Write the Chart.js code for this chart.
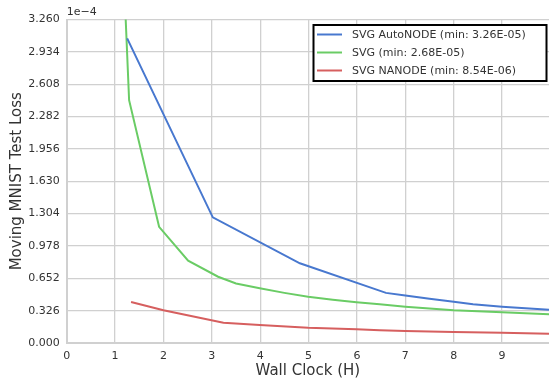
<!DOCTYPE html>
<html>
<head>
<meta charset="utf-8">
<script src="https://cdn.jsdelivr.net/npm/chart.js@4"></script>
<style>
  body { margin: 0; background: #fff; }
  #wrap { width: 549px; height: 381px; position: relative; }
</style>
</head>
<body>
<div id="wrap"><canvas id="myChart"></canvas></div>
<script>
// Values (loss in units of 1e-4)
const autoX = [1.25, 3.02, 4.82, 6.6, 7.0, 7.5, 8.0, 8.4, 9.0, 9.97];
const autoY = [3.07, 1.266, 0.803, 0.505, 0.478, 0.447, 0.416, 0.39, 0.366, 0.336];

const svgX = [1.19, 1.29, 1.91, 2.51, 3.13, 3.5, 3.99, 4.5, 4.99, 5.5, 5.99, 6.47, 7.0, 8.0, 9.0, 9.97];
const svgY = [3.6, 2.447, 1.171, 0.829, 0.668, 0.60, 0.551, 0.505, 0.466, 0.435, 0.41, 0.39, 0.366, 0.329, 0.309, 0.289];

const nanoX = [1.33, 2.0, 3.24, 3.99, 4.99, 5.99, 6.47, 7.0, 8.0, 9.0, 9.97];
const nanoY = [0.413, 0.33, 0.204, 0.181, 0.154, 0.138, 0.128, 0.121, 0.111, 0.104, 0.094];

const seriesLabels = ['SVG AutoNODE (min: 3.26E-05)', 'SVG (min: 2.68E-05)', 'SVG NANODE (min: 8.54E-06)'];
const seriesColors = ['#4878cf', '#6acc65', '#d65f5f'];

const xTicks = [0, 1, 2, 3, 4, 5, 6, 7, 8, 9];
const yTicks = [0, 0.326, 0.652, 0.978, 1.304, 1.630, 1.956, 2.282, 2.608, 2.934, 3.260];

function points(xs, ys) {
    return xs.map((x, i) => ({ x: x, y: ys[i] }));
}

const gridColor = '#d0d0d0';
const textColor = '#333333';
const font = 'DejaVu Sans';

// draws the "1e-4" offset text and the boxed legend inside the plot
const extras = {
    id: 'extras',
    afterDraw(chart) {
        const c = chart.ctx;
        const area = chart.chartArea;
        c.save();
        c.fillStyle = textColor;
        c.font = '11px "' + font + '"';
        c.textBaseline = 'alphabetic';
        c.textAlign = 'left';
        c.fillText('1e\u22124', area.left, 15);

        // legend box
        const bx = 313.5, by = 25, bw = 233, bh = 56;
        c.fillStyle = '#ffffff';
        c.fillRect(bx, by, bw, bh);
        c.strokeStyle = '#000000';
        c.lineWidth = 2;
        c.strokeRect(bx, by, bw, bh);
        c.textBaseline = 'middle';
        chart.data.datasets.forEach((ds, i) => {
            const y = 34.5 + i * 18;
            c.strokeStyle = ds.borderColor;
            c.lineWidth = 2;
            c.beginPath();
            c.moveTo(317, y);
            c.lineTo(342, y);
            c.stroke();
            c.fillStyle = textColor;
            c.fillText(ds.label, 352, y + 0.5);
        });
        c.restore();
    }
};

const ctx = document.getElementById('myChart');

new Chart(ctx, {
    type: 'line',
    data: {
        datasets: [
            { label: seriesLabels[0], data: points(autoX, autoY), borderColor: seriesColors[0] },
            { label: seriesLabels[1], data: points(svgX, svgY), borderColor: seriesColors[1] },
            { label: seriesLabels[2], data: points(nanoX, nanoY), borderColor: seriesColors[2] }
        ]
    },
    options: {
        responsive: true,
        maintainAspectRatio: false,
        animation: false,
        layout: { padding: { top: 19.5, right: 0, left: 0, bottom: 0 } },
        elements: {
            point: { radius: 0 },
            line: { borderWidth: 2, tension: 0 }
        },
        plugins: {
            legend: { display: false },
            tooltip: { enabled: false }
        },
        scales: {
            x: {
                type: 'linear',
                min: 0,
                max: 9.97,
                afterBuildTicks: (scale) => { scale.ticks = xTicks.map(v => ({ value: v })); },
                afterFit: (scale) => { scale.height = 38; },
                grid: { color: gridColor, lineWidth: 1.3, drawTicks: false },
                border: { color: gridColor, width: 2 },
                ticks: {
                    color: textColor,
                    padding: 7,
                    font: { family: font, size: 11 },
                    maxRotation: 0,
                    callback: (v) => String(v)
                },
                title: {
                    display: true,
                    text: 'Wall Clock (H)',
                    color: textColor,
                    font: { family: font, size: 15 },
                    padding: { top: 0, bottom: 1 }
                }
            },
            y: {
                min: 0,
                max: 3.26,
                afterBuildTicks: (scale) => { scale.ticks = yTicks.map(v => ({ value: v })); },
                afterFit: (scale) => { scale.width = 66.7; },
                grid: { color: gridColor, lineWidth: 1.3, drawTicks: false },
                border: { color: gridColor, width: 2 },
                ticks: {
                    color: textColor,
                    padding: 7,
                    font: { family: font, size: 11 },
                    callback: (v) => v.toFixed(3)
                },
                title: {
                    display: true,
                    text: 'Moving MNIST Test Loss',
                    color: textColor,
                    font: { family: font, size: 15 },
                    padding: { top: 8, bottom: 0 }
                }
            }
        }
    },
    plugins: [extras]
});
</script>
</body>
</html>
